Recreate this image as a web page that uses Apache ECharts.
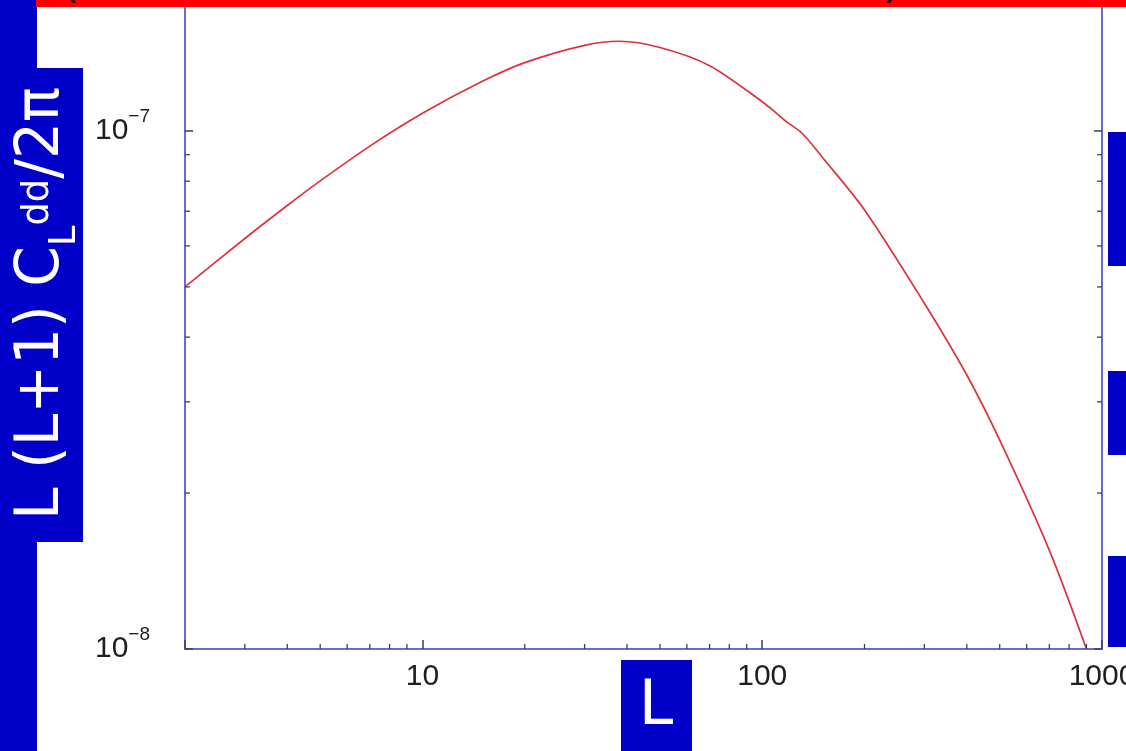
<!DOCTYPE html>
<html>
<head>
<meta charset="utf-8">
<script src="https://cdn.jsdelivr.net/npm/echarts@6/dist/echarts.min.js"></script>
<style>
  html, body { margin: 0; padding: 0; background: #ffffff; }
  #chart { width: 1126px; height: 751px; }
</style>
</head>
<body>
<div id="chart"></div>
<script>
// Lensing deflection power spectrum L(L+1) C_L^dd / 2π against multipole L (log-log)
const multipoles = [2, 3, 4, 5, 7, 10, 15, 20, 30, 38, 50, 70, 100, 110, 118, 131, 150, 200, 300, 400, 500, 700, 900];
const powerValues = [5.00e-8, 6.20e-8, 7.18e-8, 8.01e-8, 9.35e-8, 1.082e-7, 1.247e-7, 1.355e-7, 1.463e-7, 1.49e-7,
                     1.449e-7, 1.337e-7, 1.139e-7, 1.083e-7, 1.041e-7, 9.9e-8, 8.91e-8, 7.04e-8, 4.65e-8, 3.38e-8,
                     2.53e-8, 1.55e-8, 1.0e-8];

// Axis extents and the minor (2..9 per decade) tick positions
const xRange = [2, 1000];
const yRange = [1e-8, 1.79e-7];
const xMinorTicks = [3, 4, 5, 6, 7, 8, 9, 20, 30, 40, 50, 60, 70, 80, 90, 200, 300, 400, 500, 600, 700, 800, 900];
const yMinorTicks = [2e-8, 3e-8, 4e-8, 5e-8, 6e-8, 7e-8, 8e-8, 9e-8];

// Text
const xTitle = 'L';
const yTitleParts = { main: 'L (L+1) C', sub: 'L', sup: 'dd', tail: '/2π' };
const bannerGlyphs = [['(', 70], [',', 207], [',', 263], [',', 430], [',', 550], ['/', 602], [')', 893]];

const BLUE = '#0000c8';
const AXIS_BLUE = '#6868d6';
const TICK = '#3c3c66';

const chart = echarts.init(document.getElementById('chart'), null, { renderer: 'canvas' });

function isDecade(v) {
  const e = Math.log10(v);
  return Math.abs(e - Math.round(e)) < 1e-6;
}

function minorTickSeries(values, anchor, dir) {
  // anchor: which axis the ticks sit on; dir: direction the tick points
  return {
    type: 'custom',
    coordinateSystem: 'cartesian2d',
    silent: true,
    z: 5,
    data: values.map(v => anchor === 'bottom' ? [v, yRange[0]] : anchor === 'left' ? [xRange[0], v] : [xRange[1], v]),
    renderItem: function (params, api) {
      const p = api.coord([api.value(0), api.value(1)]);
      const len = 5;
      const shape = dir === 'up'
        ? { x1: p[0], y1: p[1], x2: p[0], y2: p[1] - len }
        : dir === 'right'
          ? { x1: p[0], y1: p[1], x2: p[0] + len, y2: p[1] }
          : { x1: p[0], y1: p[1], x2: p[0] - len, y2: p[1] };
      return { type: 'line', shape: shape, style: { stroke: TICK, lineWidth: 1.3 } };
    }
  };
}

// Measure the rotated y title so it spans its box
const measureCtx = document.createElement('canvas').getContext('2d');
function textWidth(str, size) {
  measureCtx.font = size + 'px "DejaVu Sans"';
  return measureCtx.measureText(str).width;
}
const MAIN_SIZE = 60, SMALL_SIZE = 38;
const wMain = textWidth(yTitleParts.main, MAIN_SIZE);
const wSub = textWidth(yTitleParts.sub, SMALL_SIZE);
const wSup = textWidth(yTitleParts.sup, SMALL_SIZE);
const wTail = textWidth(yTitleParts.tail, MAIN_SIZE);
const titleScale = 433 / (wMain + wSub + wSup + wTail);

function titleText(str, x, baselineShift, size) {
  return {
    type: 'text', z: 110, x: x, y: baselineShift - 0.3 * size,
    style: { text: str, font: size + 'px "DejaVu Sans"', fill: '#ffffff', align: 'left', verticalAlign: 'middle' }
  };
}

const option = {
  animation: false,
  backgroundColor: '#ffffff',
  grid: { left: 185, right: 24, top: 0, bottom: 102, containLabel: false, outerBoundsMode: 'none' },
  xAxis: {
    type: 'log', logBase: 10, min: xRange[0], max: xRange[1],
    axisLine: { show: true, onZero: false, lineStyle: { color: AXIS_BLUE, width: 2 } },
    axisTick: { show: true, inside: true, length: 9, lineStyle: { color: TICK, width: 1.5 } },
    splitLine: { show: false },
    axisLabel: {
      show: true, margin: 13, fontSize: 30, fontFamily: '"Liberation Sans", Arial, sans-serif', color: '#1e1e1e',
      showMinLabel: true, showMaxLabel: true, hideOverlap: false,
      formatter: v => isDecade(v) ? String(Math.round(v)) : ''
    }
  },
  yAxis: [
    {
      type: 'log', logBase: 10, min: yRange[0], max: yRange[1], position: 'left',
      axisLine: { show: true, onZero: false, lineStyle: { color: AXIS_BLUE, width: 2 } },
      axisTick: { show: true, inside: true, length: 8, lineStyle: { color: TICK, width: 1.5 } },
      splitLine: { show: false },
      axisLabel: {
        show: true, margin: 35, color: '#1e1e1e', showMinLabel: true, hideOverlap: false,
        formatter: v => isDecade(v) ? '{b|10}{s|−' + (-Math.round(Math.log10(v))) + '}' : '',
        rich: {
          b: { fontSize: 30, fontFamily: '"Liberation Sans", Arial, sans-serif', color: '#1e1e1e', lineHeight: 36 },
          s: { fontSize: 19, fontFamily: '"Liberation Sans", Arial, sans-serif', color: '#1e1e1e', verticalAlign: 'top', lineHeight: 8, height: 8 }
        }
      }
    },
    {
      type: 'log', logBase: 10, min: yRange[0], max: yRange[1], position: 'right',
      axisLine: { show: true, onZero: false, lineStyle: { color: AXIS_BLUE, width: 2 } },
      axisTick: { show: true, inside: true, length: 8, lineStyle: { color: TICK, width: 1.5 } },
      splitLine: { show: false },
      axisLabel: { show: false }
    }
  ],
  series: [
    {
      type: 'line',
      data: multipoles.map((l, i) => [l, powerValues[i]]),
      showSymbol: false,
      smooth: 0.3,
      clip: true,
      lineStyle: { color: '#e0303e', width: 1.7 },
      z: 3
    },
    minorTickSeries(xMinorTicks, 'bottom', 'up'),
    minorTickSeries(yMinorTicks, 'left', 'right'),
    minorTickSeries(yMinorTicks, 'right', 'left')
  ],
  graphic: [
    // slide decorations around the plot
    { type: 'rect', z: 100, shape: { x: 0, y: 0, width: 37, height: 751 }, style: { fill: BLUE } },
    { type: 'rect', z: 100, shape: { x: 36, y: 0, width: 1090, height: 7 }, style: { fill: '#ff0000' } },
    ...bannerGlyphs.map(g => ({
      type: 'text', z: 101, x: g[1], y: 4,
      style: { text: g[0], font: '40px "Liberation Sans"', fill: '#000000', align: 'center', verticalAlign: 'bottom' }
    })),
    { type: 'rect', z: 100, shape: { x: 0, y: 68, width: 83, height: 474 }, style: { fill: BLUE } },
    { type: 'rect', z: 100, shape: { x: 1108, y: 132, width: 18, height: 134 }, style: { fill: BLUE } },
    { type: 'rect', z: 100, shape: { x: 1108, y: 371, width: 18, height: 84 }, style: { fill: BLUE } },
    { type: 'rect', z: 100, shape: { x: 1108, y: 556, width: 18, height: 91 }, style: { fill: BLUE } },
    { type: 'rect', z: 100, shape: { x: 621, y: 660, width: 71, height: 91 }, style: { fill: BLUE } },
    {
      type: 'text', z: 101, x: 656, y: 708,
      style: { text: xTitle, font: '62px "DejaVu Sans"', fill: '#ffffff', align: 'center', verticalAlign: 'middle' }
    },
    {
      type: 'group', z: 110, x: 60, y: 520, rotation: Math.PI / 2, scaleX: titleScale,
      children: [
        titleText(yTitleParts.main, 0, 0, MAIN_SIZE),
        titleText(yTitleParts.sub, wMain, 17, SMALL_SIZE),
        titleText(yTitleParts.sup, wMain + wSub, -10, SMALL_SIZE),
        titleText(yTitleParts.tail, wMain + wSub + wSup, 0, MAIN_SIZE)
      ]
    }
  ]
};

chart.setOption(option);
</script>
</body>
</html>
